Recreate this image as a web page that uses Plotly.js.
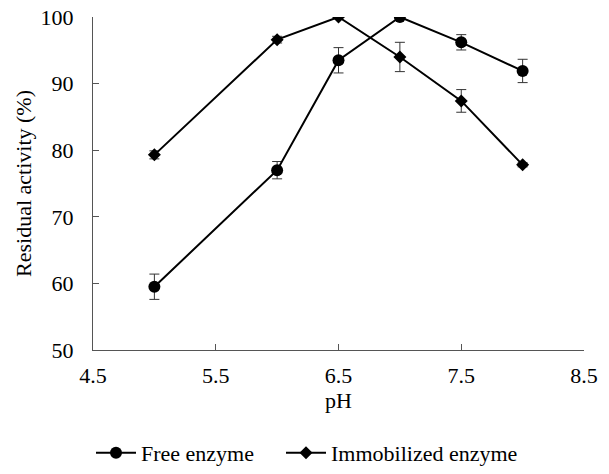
<!DOCTYPE html>
<html><head><meta charset="utf-8">
<script src="https://cdn.plot.ly/plotly-3.0.1.min.js"></script>
<style>body{margin:0;padding:0;background:#fff}#chart{width:609px;height:474px}</style>
</head><body><div id="chart"></div>
<script>
const pH = [5, 6, 6.5, 7, 7.5, 8];
const freeEnzyme = [59.5, 77.0, 93.5, 100, 96.2, 91.9];
const freeErr = [1.9, 1.3, 1.9, 0, 1.15, 1.75];
const immobilizedEnzyme = [79.3, 96.6, 100, 94.0, 87.4, 77.8];
const immobilizedErr = [0.6, 0.5, 0, 2.2, 1.7, 0.3];
const xTicks = [4.5, 5.5, 6.5, 7.5, 8.5];
const yTicks = [50, 60, 70, 80, 90, 100];

const font = {family: 'Liberation Serif, Times New Roman, serif', size: 22, color: '#000'};
const legFont = {family: 'Liberation Serif, Times New Roman, serif', size: 22, color: '#000'};
const traces = [
  {x: pH, y: freeEnzyme, name: 'Free enzyme', type: 'scatter', mode: 'lines+markers', legend: 'legend',
   line: {color: '#000', width: 2}, marker: {symbol: 'circle', size: 12, color: '#000'},
   error_y: {type: 'data', array: freeErr, visible: true, color: '#333', thickness: 1, width: 5}},
  {x: pH, y: immobilizedEnzyme, name: 'Immobilized enzyme', type: 'scatter', mode: 'lines+markers', legend: 'legend2',
   line: {color: '#000', width: 2}, marker: {symbol: 'diamond', size: 10, color: '#000'},
   error_y: {type: 'data', array: immobilizedErr, visible: true, color: '#333', thickness: 1, width: 5}}
];
const legBase = {orientation: 'h', xref: 'container', yref: 'container', xanchor: 'left', y: 0.0, yanchor: 'bottom',
                 font: legFont, itemwidth: 40, bgcolor: 'rgba(0,0,0,0)'};
const layout = {
  width: 609, height: 474,
  margin: {l: 93, r: 25, t: 17, b: 124},
  paper_bgcolor: '#fff', plot_bgcolor: '#fff',
  font: font,
  showlegend: true,
  legend: Object.assign({}, legBase, {x: 91 / 609}),
  legend2: Object.assign({}, legBase, {x: 281 / 609}),
  xaxis: {range: [4.5, 8.5], tickvals: xTicks, ticktext: xTicks.map(v => v.toFixed(1)),
          showgrid: false, zeroline: false, showline: true, linecolor: '#555', linewidth: 1,
          ticks: 'inside', ticklen: 6, tickcolor: '#555', ticklabelstandoff: 6,
          title: {text: 'pH', font: font, standoff: 4}},
  yaxis: {range: [50, 100], tickvals: yTicks, showgrid: false, zeroline: false, showline: true,
          linecolor: '#555', linewidth: 1, ticks: 'inside', ticklen: 6, tickcolor: '#555',
          ticklabelstandoff: 14,
          title: {text: 'Residual activity (%)', font: font, standoff: 2}}
};
Plotly.newPlot('chart', traces, layout, {displayModeBar: false, staticPlot: true});
</script></body></html>
